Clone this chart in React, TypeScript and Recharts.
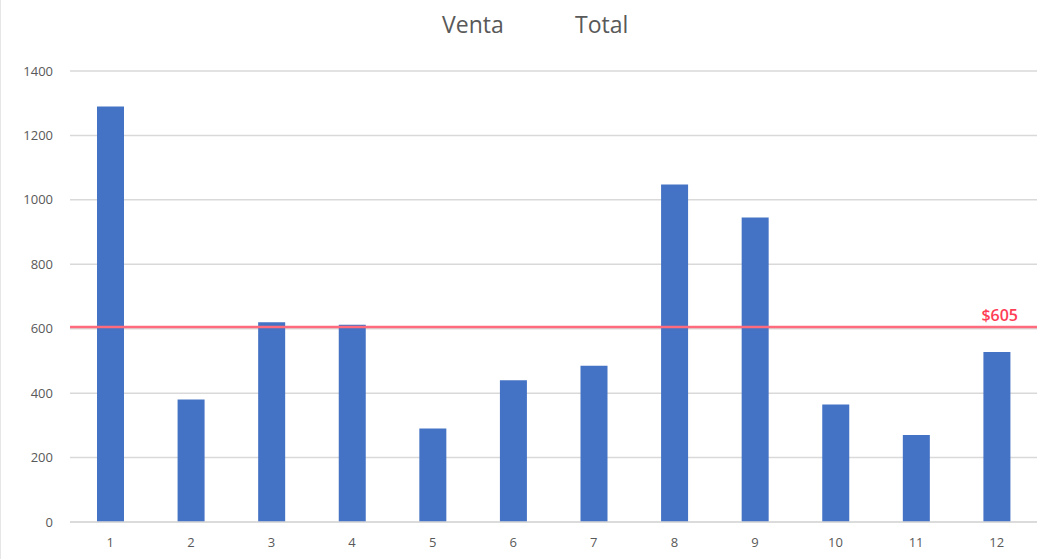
import { BarChart, Bar, XAxis, YAxis, CartesianGrid, ReferenceLine } from 'recharts';

const meses = ['1', '2', '3', '4', '5', '6', '7', '8', '9', '10', '11', '12'];
const ventas = [1290, 380, 620, 612, 290, 440, 485, 1048, 945, 365, 270, 528];
const promedio = 605;
const yTicks = [0, 200, 400, 600, 800, 1000, 1200, 1400];

const data = meses.map((m, i) => ({ mes: m, venta: ventas[i] }));

const gris = '#595959';
const font = '"Open Sans", "Liberation Sans", sans-serif';

export default function App() {
  return (
    <div
      style={{
        position: 'absolute',
        left: 0,
        top: 0,
        width: 1041,
        height: 559,
        background: '#fff',
        fontFamily: font,
        borderLeft: '1px solid #e6e6e6',
        boxSizing: 'border-box',
      }}
    >
      {/* titulo: dos palabras separadas como en el original */}
      <div style={{ position: 'absolute', left: 441, top: 8, fontSize: 23, color: gris }}>Venta</div>
      <div style={{ position: 'absolute', left: 574, top: 8, fontSize: 23, color: gris }}>Total</div>
      <BarChart
        width={1040}
        height={559}
        data={data}
        margin={{ top: 71, right: 4, left: 0, bottom: 7 }}
        barCategoryGap={0}
      >
        <CartesianGrid vertical={false} stroke="#d9d9d9" strokeWidth={1.5} />
        <XAxis
          dataKey="mes"
          interval={0}
          height={30}
          tickSize={0}
          tickMargin={16}
          axisLine={{ stroke: '#d9d9d9', strokeWidth: 1.5 }}
          tick={{ fontSize: 13, fill: gris, fontFamily: font }}
        />
        <YAxis
          width={69}
          domain={[0, 1400]}
          ticks={yTicks}
          axisLine={false}
          tickSize={0}
          tickMargin={17}
          tick={{ fontSize: 13, fill: gris, fontFamily: font }}
        />
        <Bar dataKey="venta" fill="#4472C4" barSize={27} isAnimationActive={false} />
        <ReferenceLine
          y={promedio}
          stroke="#ff6b7c"
          strokeWidth={2.5}
          label={{
            value: `$${promedio}`,
            position: 'insideBottomRight',
            fill: '#ff3d55',
            fontSize: 16,
            fontWeight: 600,
            fontFamily: font,
            offset: 6,
            dx: -13,
          }}
        />
      </BarChart>
    </div>
  );
}
